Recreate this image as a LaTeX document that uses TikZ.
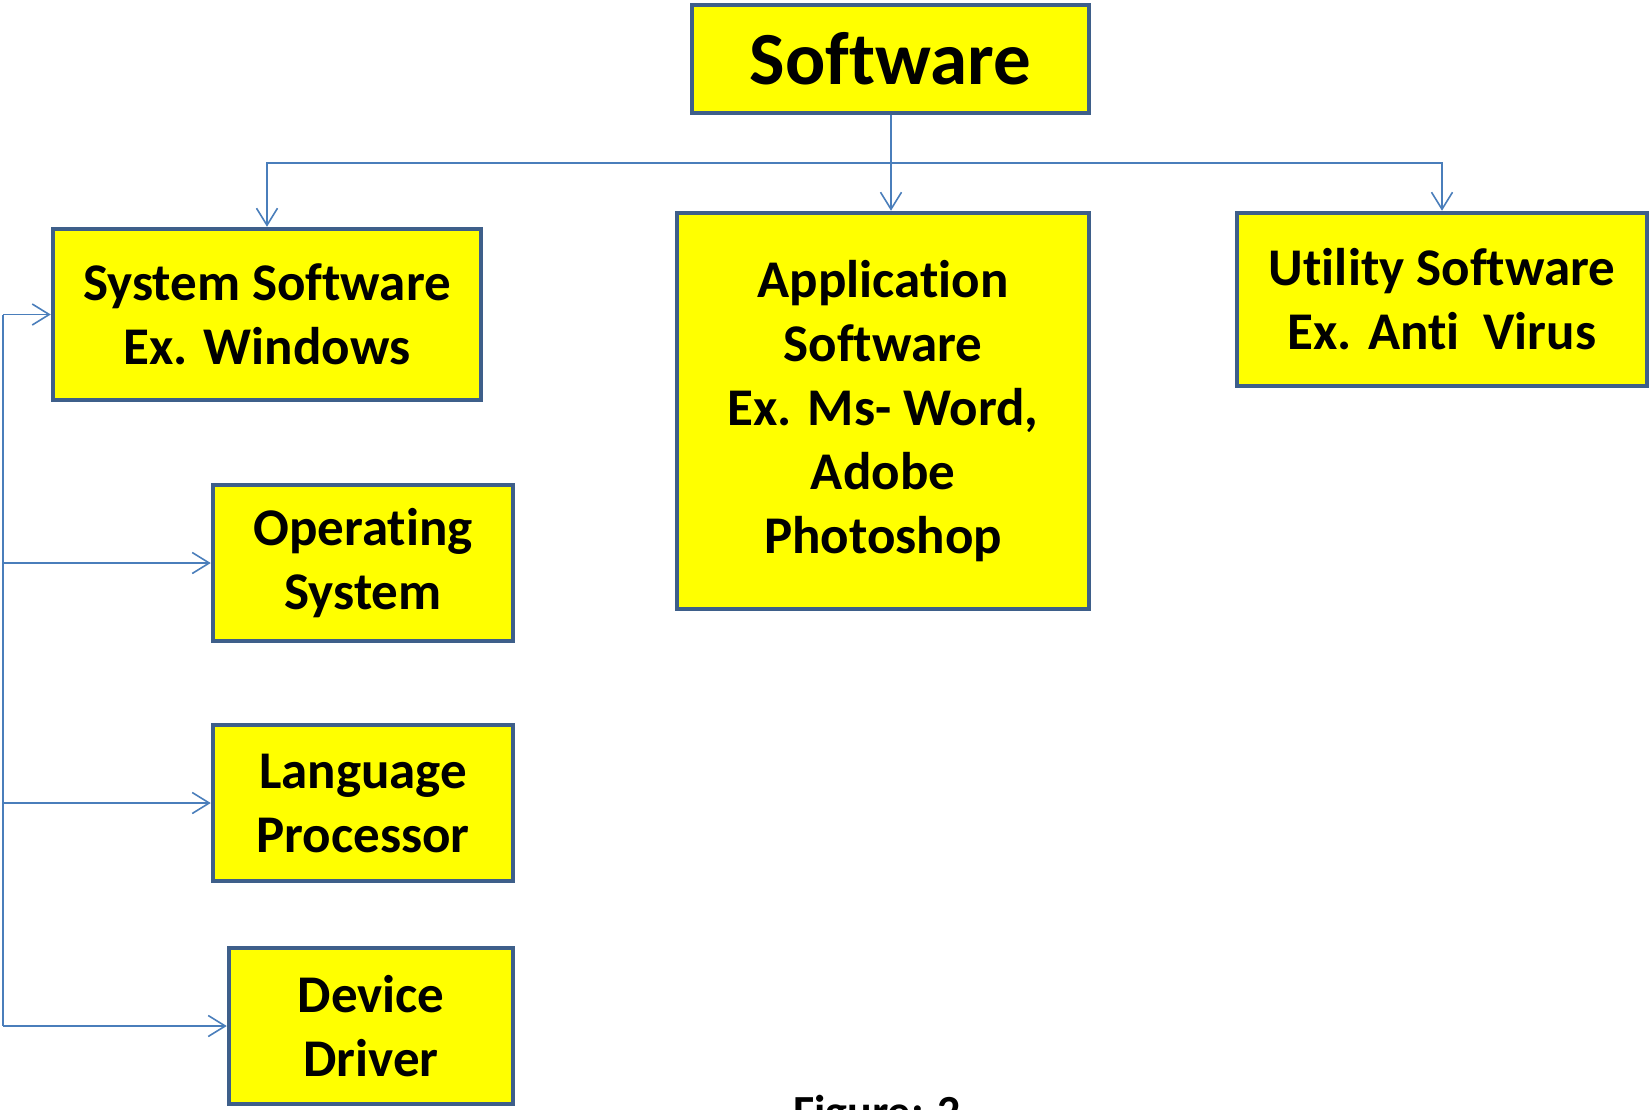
\documentclass[tikz,border=0pt]{standalone}
\usepackage{fontspec}
\setmainfont{Carlito}[Ligatures={NoCommon}]
\usetikzlibrary{arrows.meta}
\definecolor{boxfill}{HTML}{FFFF00}
\definecolor{boxline}{HTML}{3E5F8A}
\definecolor{connline}{HTML}{4A7EBB}
\tikzset{
  box/.style={draw=boxline, line width=4.5pt, fill=boxfill, align=center, inner sep=0pt,
    font=\fontsize{53}{64}\selectfont\bfseries, text=black},
  conn/.style={draw=connline, line width=1.6pt},
  arr/.style={conn, -{Straight Barb[length=17pt,width=21pt,line width=1.6pt]}}
}
\begin{document}
\begin{tikzpicture}[x=1pt,y=-1pt]
\useasboundingbox (0,0) rectangle (1652,1109);
\node[box, minimum width=397pt, minimum height=108pt, font=\fontsize{75}{80}\selectfont\bfseries] (sw) at (890.5,59) {Software};
\node[box, minimum width=428pt, minimum height=171pt] (sys) at (267,314.5) {System Software\\Ex. Windows};
\node[box, minimum width=412pt, minimum height=396pt] (app) at (883,411) {Application\\Software\\Ex. Ms- Word,\\Adobe\\Photoshop};
\node[box, minimum width=410pt, minimum height=173pt] (util) at (1442,299.5) {Utility Software\\Ex. Anti\ \ Virus};
\node[box, minimum width=300pt, minimum height=156pt] (os) at (363,563) {Operating\\System};
\node[box, minimum width=300pt, minimum height=156pt] (lang) at (363,803) {Language\\Processor};
\node[box, minimum width=284pt, minimum height=156pt] (dev) at (371,1026) {Device\\Driver};
\node[anchor=base west, inner sep=0pt, font=\fontsize{46}{50}\selectfont\bfseries] (fig) at (793,1127) {Figure: 2};
\coordinate (hub) at (891,163);
\coordinate (spTop) at (3,314.5);
\coordinate (spBot) at (spTop |- dev.west);
\draw[conn] (sw.south -| hub) -- (hub);
\draw[arr] (hub) -| (sys.north);
\draw[arr] (hub) -| (util.north);
\draw[arr] (hub) -- (app.north -| hub);
\draw[conn] (spTop) -- (spBot);
\draw[arr] (spTop) -- (sys.west);
\draw[arr] (spTop |- os.west) -- (os.west);
\draw[arr] (spTop |- lang.west) -- (lang.west);
\draw[arr] (spBot) -- (dev.west);
\end{tikzpicture}
\end{document}
